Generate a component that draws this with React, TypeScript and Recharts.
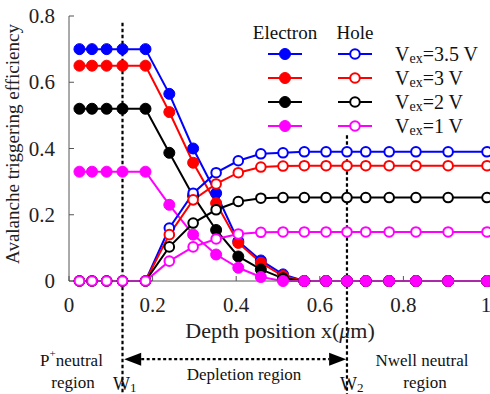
import React from 'react';
import { LineChart, Line, XAxis, YAxis, ReferenceLine } from 'recharts';

const depth = [0.025, 0.055, 0.09, 0.128, 0.183, 0.24, 0.297, 0.352, 0.405, 0.459, 0.512, 0.563, 0.615, 0.665, 0.71, 0.766, 0.83, 0.907, 1.0];

const electron35 = [0.7, 0.7, 0.7, 0.7, 0.7, 0.565, 0.4, 0.265, 0.12, 0.062, 0.02, 0, 0, 0, 0, 0, 0, 0, 0];
const electron3 = [0.65, 0.65, 0.65, 0.65, 0.65, 0.51, 0.357, 0.235, 0.115, 0.055, 0.015, 0, 0, 0, 0, 0, 0, 0, 0];
const electron2 = [0.52, 0.52, 0.52, 0.52, 0.52, 0.387, 0.257, 0.154, 0.074, 0.035, 0.008, 0, 0, 0, 0, 0, 0, 0, 0];
const electron1 = [0.33, 0.33, 0.33, 0.33, 0.33, 0.23, 0.14, 0.08, 0.04, 0.012, 0, 0, 0, 0, 0, 0, 0, 0, 0];

const hole35 = [0, 0, 0, 0, 0, 0.16, 0.265, 0.327, 0.363, 0.384, 0.387, 0.39, 0.39, 0.39, 0.39, 0.39, 0.39, 0.39, 0.39];
const hole3 = [0, 0, 0, 0, 0, 0.14, 0.245, 0.293, 0.327, 0.344, 0.347, 0.348, 0.348, 0.348, 0.348, 0.348, 0.348, 0.348, 0.348];
const hole2 = [0, 0, 0, 0, 0, 0.103, 0.175, 0.215, 0.24, 0.25, 0.252, 0.252, 0.252, 0.252, 0.252, 0.252, 0.252, 0.252, 0.252];
const hole1 = [0, 0, 0, 0, 0, 0.06, 0.103, 0.127, 0.142, 0.147, 0.148, 0.148, 0.148, 0.148, 0.148, 0.148, 0.148, 0.148, 0.148];

const xTicks = [0, 0.2, 0.4, 0.6, 0.8, 1];
const yTicks = [0, 0.2, 0.4, 0.6, 0.8];
const voltages = ['3.5', '3', '2', '1'];
const colors = ['#0000ff', '#ff0000', '#000000', '#ff00ff'];

const W1 = 0.128;
const W2 = 0.665;

const electronSeries = [electron35, electron3, electron2, electron1];
const holeSeries = [hole35, hole3, hole2, hole1];

const data = depth.map((x, i) => {
  const row: Record<string, number> = { x };
  electronSeries.forEach((s, k) => (row['e' + k] = s[i]));
  holeSeries.forEach((s, k) => (row['h' + k] = s[i]));
  return row;
});

const FONT = "'Liberation Serif', 'DejaVu Serif', serif";
const AX = '#555';
const TS: React.CSSProperties = { fontFamily: FONT };

const emptyTick = () => <g />;

const XTick = (props: any) => {
  const { x, y, payload } = props;
  return (
    <text x={x} y={y + 15} textAnchor="middle" fontSize={21} fill="#222" style={TS}>
      {String(payload.value)}
    </text>
  );
};

const YTick = (props: any) => {
  const { x, y, payload } = props;
  return (
    <text x={x} y={y + 7} textAnchor="end" fontSize={21} fill="#222" style={TS}>
      {String(payload.value)}
    </text>
  );
};

const DashShape = (props: any) => {
  const { x1, y1, x2, y2 } = props;
  return <line x1={x1} y1={y1} x2={x2} y2={y2} stroke="#000" strokeWidth={2.2} strokeDasharray="3.5 2.5" />;
};

const ArrowShape = (props: any) => {
  const { x1, y1, x2 } = props;
  const h = 6.5;
  const L = 17;
  return (
    <g>
      <line x1={x1 + L} y1={y1} x2={x2 - L} y2={y1} stroke="#000" strokeWidth={2.2} strokeDasharray="3 2.5" />
      <polygon points={`${x1},${y1} ${x1 + L},${y1 - h} ${x1 + L},${y1 + h}`} fill="#000" />
      <polygon points={`${x2},${y1} ${x2 - L},${y1 - h} ${x2 - L},${y1 + h}`} fill="#000" />
    </g>
  );
};

const legendRows = [54, 78, 102, 126];

export default function App() {
  return (
    <div style={{ position: 'absolute', left: 0, top: 0, width: 490, height: 394, background: '#fff' }}>
      <div style={{ position: 'absolute', left: 0, top: 0 }}>
        <LineChart width={490} height={394} data={data} margin={{ top: 16, right: 3, bottom: 83, left: 0 }}>
          <XAxis dataKey="x" type="number" domain={[0, 1]} ticks={xTicks} height={30} tickSize={-5} tickMargin={21} stroke={AX} tick={XTick} />
          <XAxis xAxisId="top" dataKey="x" type="number" domain={[0, 1]} ticks={xTicks} orientation="top" height={0} tickSize={-5} stroke={AX} tick={emptyTick} />
          <YAxis type="number" domain={[0, 0.8]} ticks={yTicks} width={69} tickSize={-5} tickMargin={19} stroke={AX} tick={YTick} />
          <YAxis yAxisId="right" type="number" domain={[0, 0.8]} ticks={yTicks} orientation="right" width={0} tickSize={-5} stroke={AX} tick={emptyTick} />
          <ReferenceLine segment={[{ x: W1, y: 0.78 }, { x: W1, y: -0.345 }]} ifOverflow="visible" shape={DashShape} />
          <ReferenceLine segment={[{ x: W2, y: 0.44 }, { x: W2, y: -0.345 }]} ifOverflow="visible" shape={DashShape} />
          <ReferenceLine segment={[{ x: W1 + 0.004, y: -0.236 }, { x: W2 - 0.002, y: -0.236 }]} ifOverflow="visible" shape={ArrowShape} />
          {colors.map((c, k) => (
            <Line key={'e' + k} dataKey={'e' + k} stroke={c} strokeWidth={2} dot={{ r: 5.5, fill: c, stroke: c, strokeWidth: 1 }} isAnimationActive={false} />
          ))}
          {colors.map((c, k) => (
            <Line key={'h' + k} dataKey={'h' + k} stroke={c} strokeWidth={2} dot={{ r: 4.8, fill: '#fff', stroke: c, strokeWidth: 2 }} isAnimationActive={false} />
          ))}
        </LineChart>
      </div>
      <svg width={490} height={394} style={{ position: 'absolute', left: 0, top: 0, pointerEvents: 'none', fontFamily: FONT }}>
        <text transform="translate(19,144) rotate(-90)" textAnchor="middle" fontSize={19} fill="#222" style={TS}>
          Avalanche triggering efficiency
        </text>
        <text x={280} y={338} textAnchor="middle" fontSize={22} fill="#222" style={TS}>
          Depth position x(<tspan fontStyle="italic">μ</tspan>m)
        </text>
        <text x={285} y={39} textAnchor="middle" fontSize={19} fill="#111" style={TS}>Electron</text>
        <text x={355} y={39} textAnchor="middle" fontSize={19} fill="#111" style={TS}>Hole</text>
        {legendRows.map((y, k) => (
          <g key={k}>
            <line x1={268} x2={302} y1={y} y2={y} stroke={colors[k]} strokeWidth={2} />
            <circle cx={285} cy={y} r={5.5} fill={colors[k]} stroke={colors[k]} />
            <line x1={338} x2={372} y1={y} y2={y} stroke={colors[k]} strokeWidth={2} />
            <circle cx={355} cy={y} r={4.8} fill="#fff" stroke={colors[k]} strokeWidth={2} />
            <text x={395} y={y + 7} fontSize={20} fill="#111" style={TS}>
              V<tspan fontSize={14} dy={2}>ex</tspan>
              <tspan dy={-2}>={voltages[k]} V</tspan>
            </text>
          </g>
        ))}
        <text x={40} y={366} fontSize={17} fill="#111" style={TS}>
          P<tspan fontSize={11} dy={-9}>+</tspan>
          <tspan dy={9}>neutral</tspan>
        </text>
        <text x={73} y={388} textAnchor="middle" fontSize={17} fill="#111" style={TS}>region</text>
        <text x={113} y={390} fontSize={18} fill="#111" style={TS}>
          W<tspan fontSize={13} dy={2}>1</tspan>
        </text>
        <text x={244} y={380} textAnchor="middle" fontSize={17} fill="#111" style={TS}>Depletion region</text>
        <text x={340} y={390} fontSize={18} fill="#111" style={TS}>
          W<tspan fontSize={13} dy={2}>2</tspan>
        </text>
        <text x={422} y={366} textAnchor="middle" fontSize={17} fill="#111" style={TS}>Nwell neutral</text>
        <text x={425} y={388} textAnchor="middle" fontSize={17} fill="#111" style={TS}>region</text>
      </svg>
    </div>
  );
}
